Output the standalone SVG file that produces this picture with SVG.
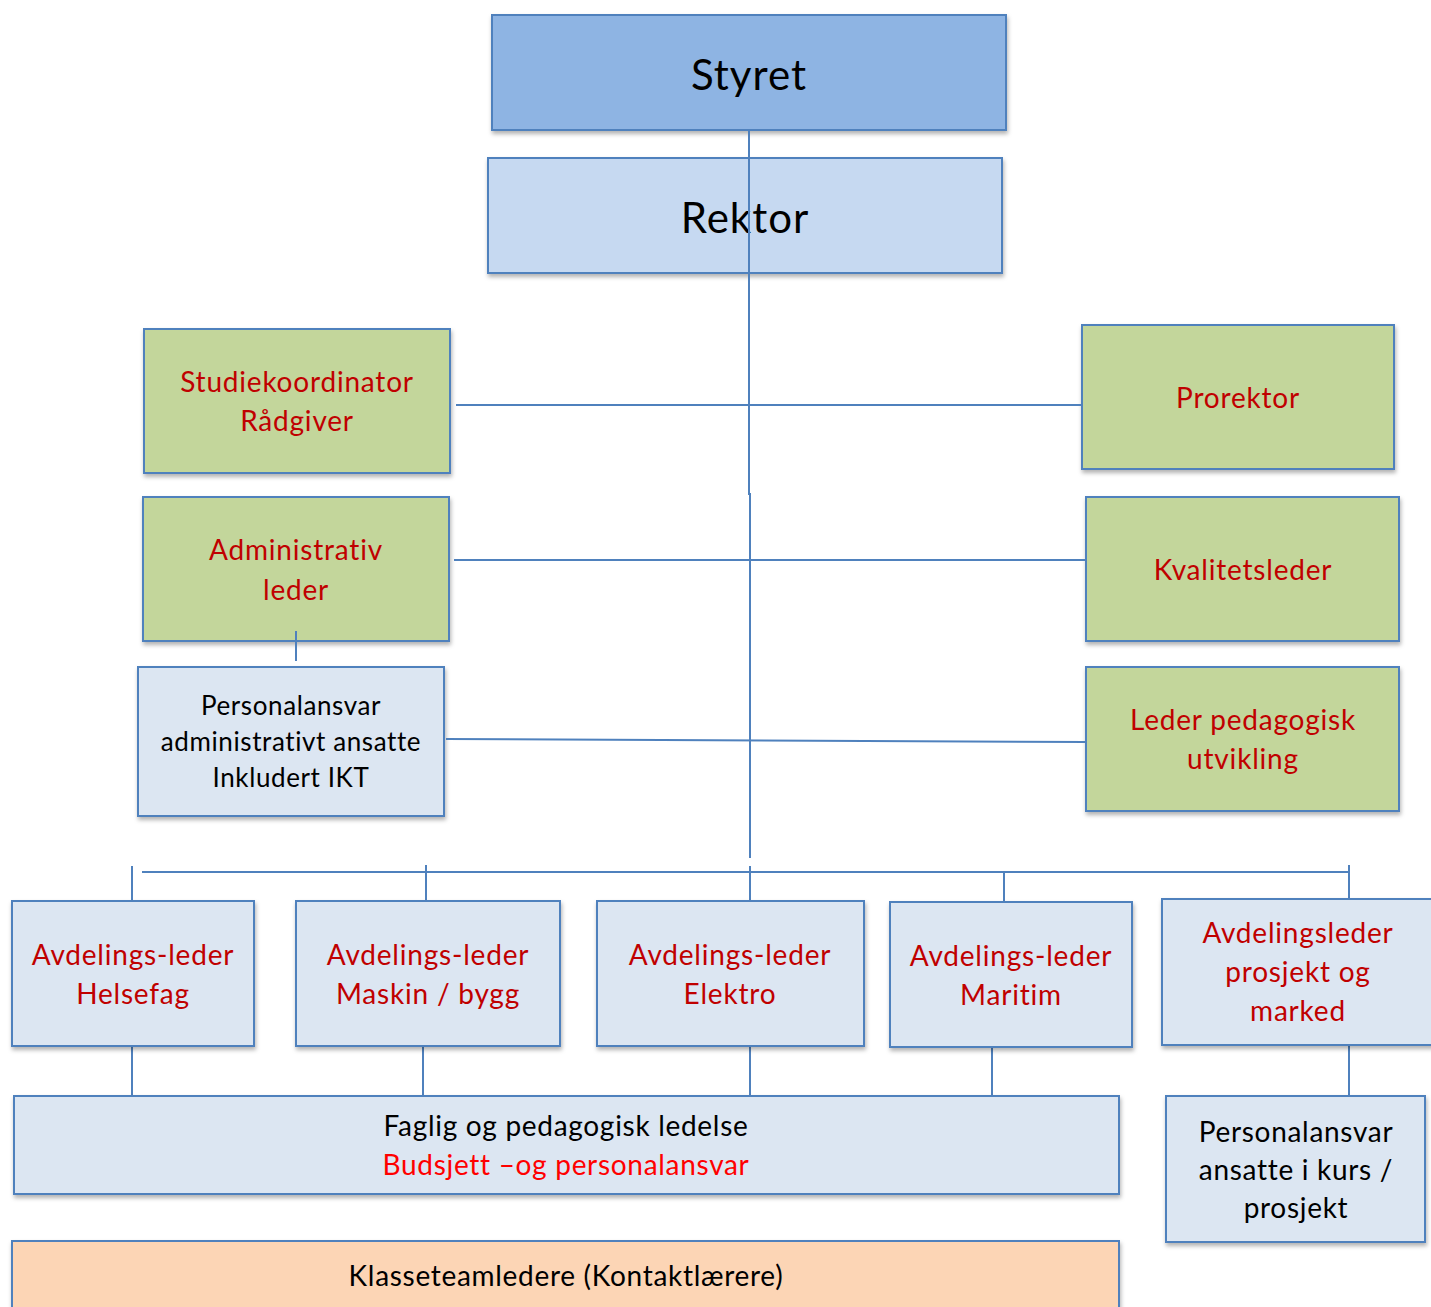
<svg xmlns="http://www.w3.org/2000/svg" width="1431" height="1307" viewBox="0 0 1431 1307">
<defs>
<filter id="sh" x="-5%" y="-5%" width="110%" height="115%">
<feDropShadow dx="1" dy="3" stdDeviation="2" flood-color="#000" flood-opacity="0.3"/>
</filter>
<style>
.box{stroke:#4F81BD;stroke-width:2;filter:url(#sh)}
.dark{fill:#8EB4E3}.mid{fill:#C6D9F1}.green{fill:#C3D69B}.light{fill:#DCE6F2}.peach{fill:#FCD5B5}
text{font-family:Lato,"Open Sans","Liberation Sans",sans-serif;text-anchor:middle}
.red{fill:#C00000;font-size:28px;letter-spacing:0.8px}
.blk{fill:#000;font-size:26px;letter-spacing:0.6px}
.blk2{fill:#000;font-size:28px;letter-spacing:0.7px}
.bright{fill:#FF0000;font-size:28px;letter-spacing:0.7px}
.big{fill:#000;font-size:42px;letter-spacing:1px}
.conn line,.conn polyline{stroke:#4F81BD;stroke-width:2;fill:none}
</style>
</defs>
<rect width="1431" height="1307" fill="#fff"/>
<g id="styret"><rect class="box dark" x="492" y="15" width="514" height="115"/><text class="big" x="749" y="90">Styret</text></g>
<g id="rektor"><rect class="box mid" x="488" y="158" width="514" height="115"/><text class="big" x="745" y="233">Rektor</text></g>
<g id="studiekoordinator"><rect class="box green" x="144" y="329" width="306" height="144"/><text class="red" x="297" y="392">Studiekoordinator</text><text class="red" x="297" y="431">Rådgiver</text></g>
<g id="prorektor"><rect class="box green" x="1082" y="325" width="312" height="144"/><text class="red" x="1238" y="408">Prorektor</text></g>
<g id="administrativ"><rect class="box green" x="143" y="497" width="306" height="144"/><text class="red" x="296" y="560">Administrativ</text><text class="red" x="296" y="600">leder</text></g>
<g id="kvalitetsleder"><rect class="box green" x="1086" y="497" width="313" height="144"/><text class="red" x="1243" y="580">Kvalitetsleder</text></g>
<g id="personal-admin"><rect class="box light" x="138" y="667" width="306" height="149"/><text class="blk" x="291" y="715">Personalansvar</text><text class="blk" x="291" y="751">administrativt ansatte</text><text class="blk" x="291" y="787">Inkludert IKT</text></g>
<g id="leder-ped"><rect class="box green" x="1086" y="667" width="313" height="144"/><text class="red" x="1243" y="730">Leder pedagogisk</text><text class="red" x="1243" y="769">utvikling</text></g>
<g id="conn" class="conn">
<polyline points="749,130 749,494 750,494 750,858"/>
<line x1="456" y1="405" x2="1082" y2="405"/>
<line x1="454" y1="560" x2="1086" y2="560"/>
<line x1="296" y1="631" x2="296" y2="661"/>
<line x1="446" y1="739" x2="1086" y2="742"/>
<line x1="142" y1="872" x2="1350" y2="872"/>
<line x1="132" y1="866" x2="132" y2="901"/>
<line x1="426" y1="865" x2="426" y2="901"/>
<line x1="750" y1="866" x2="750" y2="901"/>
<line x1="1004" y1="872" x2="1004" y2="902"/>
<line x1="1349" y1="865" x2="1349" y2="899"/>
<line x1="132" y1="1046" x2="132" y2="1096"/>
<line x1="423" y1="1046" x2="423" y2="1096"/>
<line x1="750" y1="1046" x2="750" y2="1096"/>
<line x1="992" y1="1047" x2="992" y2="1096"/>
<line x1="1349" y1="1045" x2="1349" y2="1096"/>
</g>
<g id="helsefag"><rect class="box light" x="12" y="901" width="242" height="145"/><text class="red" x="133" y="965">Avdelings-leder</text><text class="red" x="133" y="1004">Helsefag</text></g>
<g id="maskin"><rect class="box light" x="296" y="901" width="264" height="145"/><text class="red" x="428" y="965">Avdelings-leder</text><text class="red" x="428" y="1004">Maskin / bygg</text></g>
<g id="elektro"><rect class="box light" x="597" y="901" width="267" height="145"/><text class="red" x="730" y="965">Avdelings-leder</text><text class="red" x="730" y="1004">Elektro</text></g>
<g id="maritim"><rect class="box light" x="890" y="902" width="242" height="145"/><text class="red" x="1011" y="966">Avdelings-leder</text><text class="red" x="1011" y="1005">Maritim</text></g>
<g id="prosjekt"><rect class="box light" x="1162" y="899" width="272" height="146"/><text class="red" x="1298" y="943">Avdelingsleder</text><text class="red" x="1298" y="982">prosjekt og</text><text class="red" x="1298" y="1021">marked</text></g>
<g id="faglig"><rect class="box light" x="14" y="1096" width="1105" height="98"/><text class="blk2" x="566" y="1136">Faglig og pedagogisk ledelse</text><text class="bright" x="566" y="1175">Budsjett –og personalansvar</text></g>
<g id="personal-kurs"><rect class="box light" x="1166" y="1096" width="259" height="146"/><text class="blk2" x="1296" y="1142">Personalansvar</text><text class="blk2" x="1296" y="1180">ansatte i kurs /</text><text class="blk2" x="1296" y="1218">prosjekt</text></g>
<g id="klasseteam"><rect class="box peach" x="12" y="1241" width="1107" height="80"/><text class="blk2" x="566" y="1286">Klasseteamledere (Kontaktlærere)</text></g>
</svg>
